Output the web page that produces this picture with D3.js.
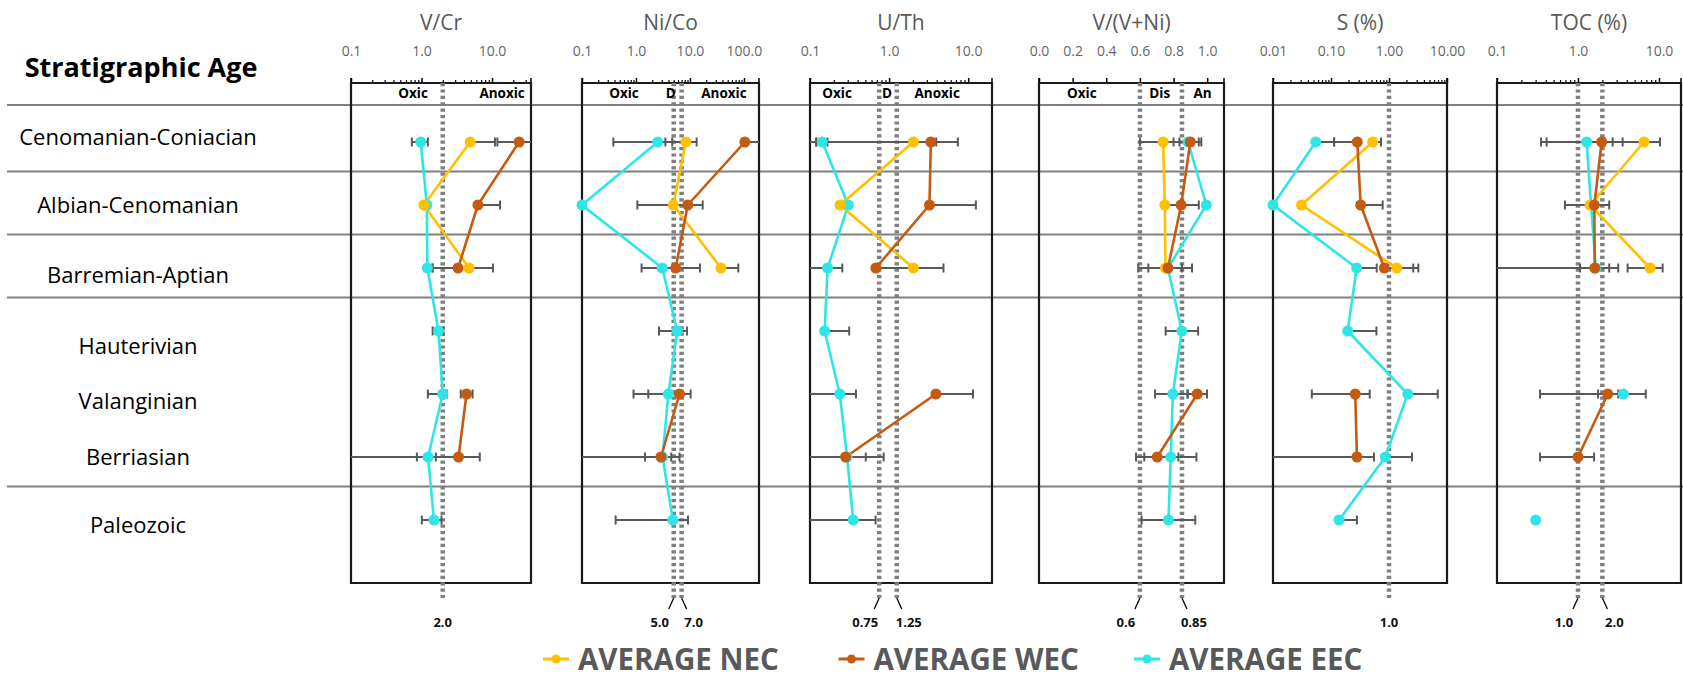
<!DOCTYPE html>
<html><head><meta charset="utf-8">
<script src="https://cdn.jsdelivr.net/npm/d3@7"></script>
<style>body{margin:0;background:#fff;} svg{display:block;font-family:"Open Sans","Liberation Sans",sans-serif;}</style>
</head><body>
<svg id="chart" width="1683" height="683"></svg>
<script>
// ---------------- DATA ----------------
const categories = ["Cenomanian-Coniacian","Albian-Cenomanian","Barremian-Aptian","Hauterivian","Valanginian","Berriasian","Paleozoic"];
const seriesNames = ["AVERAGE NEC","AVERAGE WEC","AVERAGE EEC"];
const groupEnds = ["Cenomanian-Coniacian","Albian-Cenomanian","Barremian-Aptian","Berriasian"];

// V/Cr
const vcrTicks = [0.1, 1, 10];
const vcrNEC = [4.9, 1.08, 4.72, null, null, null, null];
const vcrWEC = [24.2, 6.3, 3.3, null, 4.35, 3.35, null];
const vcrEEC = [0.975, 1.19, 1.21, 1.74, 2.0, 1.24, 1.5];
const vcrNECerr = [[null, 11.0], null, [null, 10.3], null, null, null, null];
const vcrWECerr = [[11.9, 999], [null, 13.0], [1.43, null], null, [3.6, 5.3], [0, 6.7], null];
const vcrEECerr = [[0.73, 1.23], null, [null, 1.43], [1.44, 2.04], [1.23, 2.27], [0.86, 1.6], [1.01, 1.92]];
const vcrThresholds = [2.0];
const vcrThrLabels = ["2.0"];
const vcrZones = ["Oxic", "Anoxic"];
const vcrZoneAt = [0.76, 13.9];

// Ni/Co
const nicoTicks = [0.1, 1, 10, 100];
const nicoNEC = [8.4, 4.9, 37.5, null, null, null, null];
const nicoWEC = [104, 9.1, 5.43, null, 6.4, 2.9, null];
const nicoEEC = [2.52, 0.1, 3.07, 5.8, 3.98, 3.1, 4.82];
const nicoNECerr = [[3.5, 13.3], null, [null, 78.5], null, null, null, null];
const nicoWECerr = [[null, 9999], [1.06, 17.2], [null, 15.3], null, [0.9, 10.3], [0, 6.4], null];
const nicoEECerr = [[0.38, 4.7], null, [1.27, 4.9], [2.67, 8.8], [1.69, 6.3], [1.47, 4.5], [0.42, 9.2]];
const nicoThresholds = [5.0, 7.0];
const nicoThrLabels = ["5.0", "7.0"];
const nicoZones = ["Oxic", "D", "Anoxic"];
const nicoZoneAt = [0.6, 4.4, 42.6];

// U/Th
const uthTicks = [0.1, 1, 10];
const uthNEC = [2.03, 0.24, 2.03, null, null, null, null];
const uthWEC = [3.37, 3.24, 0.68, null, 3.91, 0.282, null];
const uthEEC = [0.143, 0.305, 0.167, 0.153, 0.238, 0.294, 0.352];
const uthNECerr = [[0.12, 3.94], null, [0.7, 4.87], null, null, null, null];
const uthWECerr = [[0, 7.4], [null, 12.5], null, null, [null, 11.5], [0, 0.855], null];
const uthEECerr = [[0.12, 0.166], null, [0, 0.256], [null, 0.313], [0, 0.381], [0, 0.507], [0, 0.675]];
const uthThresholds = [0.75, 1.25];
const uthThrLabels = ["0.75", "1.25"];
const uthZones = ["Oxic", "D", "Anoxic"];
const uthZoneAt = [0.22, 0.94, 4.06];

// V/(V+Ni)
const vvniTicks = [0.0, 0.2, 0.4, 0.6, 0.8, 1.0];
const vvniNEC = [0.738, 0.748, 0.752, null, null, null, null];
const vvniWEC = [0.90, 0.845, 0.767, null, 0.941, 0.703, null];
const vvniEEC = [0.886, 0.995, 0.767, 0.849, 0.796, 0.783, 0.77];
const vvniNECerr = [[0.60, 0.876], null, [0.59, 0.91], null, null, null, null];
const vvniWECerr = [[0.835, 0.965], [0.75, 0.95], [0.65, 0.85], null, [0.883, 0.999], [0.577, 0.829], null];
const vvniEECerr = [[0.80, 0.95], null, null, [0.753, 0.946], [0.69, 0.884], [0.626, 0.936], [0.61, 0.929]];
const vvniThresholds = [0.6, 0.85];
const vvniThrLabels = ["0.6", "0.85"];
const vvniZones = ["Oxic", "Dis", "An"];
const vvniZoneAt = [0.255, 0.718, 0.973];

// S (%)
const sTicks = [0.01, 0.1, 1, 10];
const sNEC = [0.523, 0.031, 1.36, null, null, null, null];
const sWEC = [0.284, 0.325, 0.83, null, 0.262, 0.28, null];
const sEEC = [0.0545, 0.01, 0.277, 0.194, 2.1, 0.863, 0.138];
const sNECerr = [[null, 0.728], null, [null, 3.2], null, null, null, null];
const sWECerr = [[0.113, null], [null, 0.778], [null, 2.62], null, [0.0467, 0.465], [0, 0.55], null];
const sEECerr = [[null, 0.113], null, [null, 0.614], [null, 0.607], [null, 6.93], [null, 2.49], [null, 0.28]];
const sThresholds = [1.0];
const sThrLabels = ["1.0"];

// TOC (%)
const tocTicks = [0.1, 1, 10];
const tocNEC = [6.53, 1.41, 7.74, null, null, null, null];
const tocWEC = [1.96, 1.59, 1.61, null, 2.33, 1.0, null];
const tocEEC = [1.28, 1.45, 1.66, null, 3.63, null, 0.30];
const tocNECerr = [[2.68, 10.3], null, [4.1, 11.1], null, null, null, null];
const tocWECerr = [[0.35, 3.56], [0.69, 2.43], [0, 3.14], null, [0.34, 3.14], [0.34, 1.58], null];
const tocEECerr = [[0.41, 2.15], null, [1.06, 2.43], null, [1.77, 6.87], null, null];
const tocThresholds = [1.0, 2.0];
const tocThrLabels = ["1.0", "2.0"];

// ---------------- LAYOUT ----------------
const panels = [
  {title:"V/Cr", type:"log", domain:[0.1, 35.7], px:[351,531], ticks:vcrTicks, fmt:".1f",
   series:[vcrNEC,vcrWEC,vcrEEC], errs:[vcrNECerr,vcrWECerr,vcrEECerr], thr:vcrThresholds, thrL:vcrThrLabels, zones:vcrZones, zoneAt:vcrZoneAt},
  {title:"Ni/Co", type:"log", domain:[0.1, 190], px:[582,759], ticks:nicoTicks, fmt:".1f",
   series:[nicoNEC,nicoWEC,nicoEEC], errs:[nicoNECerr,nicoWECerr,nicoEECerr], thr:nicoThresholds, thrL:nicoThrLabels, zones:nicoZones, zoneAt:nicoZoneAt},
  {title:"U/Th", type:"log", domain:[0.1, 20], px:[810,992], ticks:uthTicks, fmt:".1f",
   series:[uthNEC,uthWEC,uthEEC], errs:[uthNECerr,uthWECerr,uthEECerr], thr:uthThresholds, thrL:uthThrLabels, zones:uthZones, zoneAt:uthZoneAt},
  {title:"V/(V+Ni)", type:"linear", domain:[0, 1.1], px:[1039,1224], ticks:vvniTicks, fmt:".1f",
   series:[vvniNEC,vvniWEC,vvniEEC], errs:[vvniNECerr,vvniWECerr,vvniEECerr], thr:vvniThresholds, thrL:vvniThrLabels, zones:vvniZones, zoneAt:vvniZoneAt},
  {title:"S (%)", type:"log", domain:[0.01, 10], px:[1273,1447], ticks:sTicks, fmt:".2f",
   series:[sNEC,sWEC,sEEC], errs:[sNECerr,sWECerr,sEECerr], thr:sThresholds, thrL:sThrLabels, zones:[], zoneAt:[]},
  {title:"TOC (%)", type:"log", domain:[0.1, 18.7], px:[1497,1681], ticks:tocTicks, fmt:".1f",
   series:[tocNEC,tocWEC,tocEEC], errs:[tocNECerr,tocWECerr,tocEECerr], thr:tocThresholds, thrL:tocThrLabels, zones:[], zoneAt:[]}
];

const colors = ["#FFC000", "#C55A11", "#2EE6E6"];
const rowLabelDy = [-4, 1, 8, 16, 8, 1, 6];
const drawOrder = [2, 0, 1];

const svg = d3.select("#chart");
const yTop = 83, yBot = 583;
const y = d3.scalePoint().domain(categories).range([142, 520]);
const grey = "#595959";

// header
svg.append("text").attr("x", 141).attr("y", 77).attr("text-anchor","middle")
  .attr("font-size", 27).attr("font-weight", 700).attr("fill", "#000").text("Stratigraphic Age");

// row labels
svg.selectAll(".rowlab").data(categories).join("text")
  .attr("x", 138).attr("y", (d,i) => y(d) + rowLabelDy[i] + 7)
  .attr("text-anchor","middle").attr("font-size", 22).attr("fill", "#000").text(d => d);

// separators
const step = y.step();
const sepYs = [105].concat(groupEnds.map(c => y(c) + step/2 - 2));
svg.selectAll(".sep").data(sepYs).join("line")
  .attr("x1", 7).attr("x2", 1683).attr("y1", d => d).attr("y2", d => d)
  .attr("stroke", "#808080").attr("stroke-width", 2);

const defs = svg.append("defs");

panels.forEach((p, pi) => {
  const x = (p.type === "log" ? d3.scaleLog() : d3.scaleLinear()).domain(p.domain).range(p.px);
  const [r0, r1] = p.px;
  const [d0, d1] = p.domain;
  const g = svg.append("g");
  const cx = (r0 + r1) / 2;

  defs.append("clipPath").attr("id", "clip" + pi).append("rect")
    .attr("x", r0).attr("y", yTop).attr("width", r1 - r0).attr("height", yBot - yTop);

  // title
  g.append("text").attr("x", cx).attr("y", 30).attr("text-anchor","middle")
    .attr("font-size", 21).attr("fill", grey).text(p.title);

  // tick marks
  let majors = p.ticks.slice(), minors = [];
  if (p.type === "log") {
    const e0 = Math.floor(Math.log10(d0)), e1 = Math.ceil(Math.log10(d1));
    for (let e = e0; e <= e1; e++) for (let k = 2; k <= 9; k++) {
      const v = k * Math.pow(10, e);
      if (v > d0 * 1.0001 && v < d1 * 0.9999) minors.push(v);
    }
  }
  const axMaj = d3.axisTop(x).tickValues(majors).tickSize(5).tickPadding(22).tickFormat(d3.format(p.fmt));
  const axg = g.append("g").attr("transform", `translate(0,${yTop})`).call(axMaj);
  axg.select(".domain").remove();
  axg.selectAll("line").attr("stroke", "#000").attr("stroke-width", 1.5);
  axg.selectAll("text").attr("font-size", 14).attr("fill", "#666").attr("font-family", "Open Sans, sans-serif");
  const axMin = d3.axisTop(x).tickValues(minors).tickSize(3).tickFormat("");
  const axm = g.append("g").attr("transform", `translate(0,${yTop})`).call(axMin);
  axm.select(".domain").remove();
  axm.selectAll("line").attr("stroke", "#000").attr("stroke-width", 1.2);
  // end ticks
  g.selectAll(".endt").data([r0, r1]).join("line")
    .attr("x1", d => d).attr("x2", d => d).attr("y1", yTop - 5).attr("y2", yTop)
    .attr("stroke", "#000").attr("stroke-width", 1.5);

  // box
  g.append("path").attr("d", `M${r0},${yTop}H${r1}V${yBot}H${r0}Z`)
    .attr("fill", "none").attr("stroke", "#1a1a1a").attr("stroke-width", 2.2);

  // thresholds
  const nThr = p.thr.length;
  p.thr.forEach((t, ti) => {
    const xt = x(t);
    g.append("line").attr("x1", xt).attr("x2", xt).attr("y1", yTop).attr("y2", 598)
      .attr("stroke", "#7f7f7f").attr("stroke-width", 4.5).attr("stroke-dasharray", "3.2,3.2");
    let lx = xt;
    if (nThr === 2) {
      const dir = ti === 0 ? -1 : 1;
      g.append("line").attr("x1", xt).attr("x2", xt + dir * 5).attr("y1", 598).attr("y2", 609)
        .attr("stroke", "#000").attr("stroke-width", 1.3);
      lx = xt + (ti === 0 ? -14 : 12);
    }
    g.append("text").attr("x", lx).attr("y", 627).attr("text-anchor","middle")
      .attr("font-size", 13).attr("font-weight", 700).attr("fill", "#111").text(p.thrL[ti]);
  });

  // zone labels
  p.zones.forEach((z, zi) => {
    g.append("text").attr("x", x(p.zoneAt[zi])).attr("y", 98).attr("text-anchor","middle")
      .attr("font-size", 13.5).attr("font-weight", 700).attr("fill", "#000").text(z);
  });

  // error bars
  const eg = g.append("g").attr("clip-path", `url(#clip${pi})`);
  drawOrder.forEach(si => {
    const vals = p.series[si], errs = p.errs[si];
    categories.forEach((c, i) => {
      const e = errs[i], v = vals[i];
      if (!e || v == null) return;
      const yy = y(c);
      let xa = x(v), xb = x(v), capA = false, capB = false;
      if (e[0] != null) { if (e[0] <= d0) xa = r0; else { xa = x(e[0]); capA = true; } }
      if (e[1] != null) { if (e[1] >= d1) xb = r1; else { xb = x(e[1]); capB = true; } }
      eg.append("line").attr("x1", xa).attr("x2", xb).attr("y1", yy).attr("y2", yy)
        .attr("stroke", grey).attr("stroke-width", 2);
      [[capA, xa], [capB, xb]].forEach(([cp, xc]) => {
        if (cp) eg.append("line").attr("x1", xc).attr("x2", xc).attr("y1", yy - 4.5).attr("y2", yy + 4.5)
          .attr("stroke", grey).attr("stroke-width", 2);
      });
    });
  });

  // lines
  const lg = g.append("g").attr("clip-path", `url(#clip${pi})`);
  drawOrder.forEach(si => {
    const pts = categories.map((c, i) => ({c, v: p.series[si][i]}));
    const line = d3.line().defined(d => d.v != null).x(d => x(d.v)).y(d => y(d.c));
    lg.append("path").datum(pts).attr("d", line).attr("fill", "none")
      .attr("stroke", colors[si]).attr("stroke-width", 2.6).attr("stroke-linejoin", "round");
  });
  // dots
  drawOrder.forEach(si => {
    const pts = categories.map((c, i) => ({c, v: p.series[si][i]})).filter(d => d.v != null);
    g.selectAll(null).data(pts).join("circle")
      .attr("cx", d => x(d.v)).attr("cy", d => y(d.c)).attr("r", 5.5).attr("fill", colors[si]);
  });
});

// legend
const legY = 659;
const lx = d3.scalePoint().domain(seriesNames).range([556, 1147]);
const leg = svg.append("g");
seriesNames.forEach((s, i) => {
  const mx = lx(s);
  leg.append("line").attr("x1", mx - 13).attr("x2", mx + 13).attr("y1", legY).attr("y2", legY)
    .attr("stroke", colors[i]).attr("stroke-width", 3);
  leg.append("circle").attr("cx", mx).attr("cy", legY).attr("r", 4.5).attr("fill", colors[i]);
  leg.append("text").attr("x", mx + 22).attr("y", legY).attr("dy", "0.36em")
    .attr("font-size", 29.5).attr("font-weight", 700)
    .attr("fill", grey).text(s);
});
</script>
</body></html>
